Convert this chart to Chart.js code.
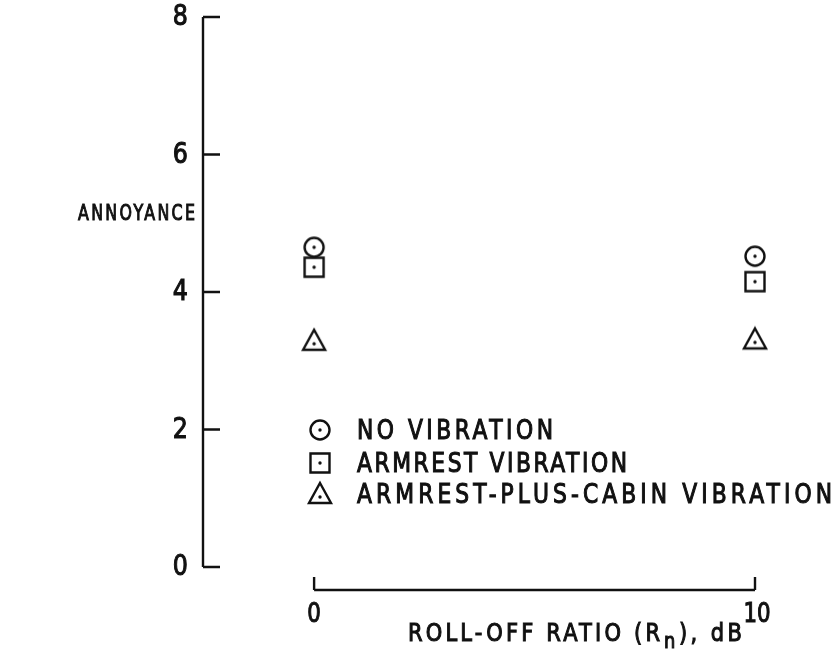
<!DOCTYPE html>
<html>
<head>
<meta charset="utf-8">
<script src="https://cdn.jsdelivr.net/npm/chart.js@4/dist/chart.umd.min.js"></script>
<style>
  html, body { margin: 0; padding: 0; background: #fff; }
  #wrap { width: 837px; height: 662px; }
</style>
</head>
<body>
<div id="wrap"><canvas id="annoyChart" width="837" height="662"></canvas></div>
<script>
// values
const rollOff = [0, 10];
const noVibration = [4.65, 4.52];
const armrestVib = [4.36, 4.15];
const armrestCabinVib = [3.29, 3.31];
const yTicks = [0, 2, 4, 6, 8];
const xTicks = [0, 10];
const seriesNames = ['NO VIBRATION', 'ARMREST VIBRATION', 'ARMREST-PLUS-CABIN VIBRATION'];

const FONT = '"DejaVu Sans", sans-serif';
const INK = '#111';

function marker(kind) {
	let c = document.createElement('canvas');
	c.width = 28; c.height = 28;
	let g = c.getContext('2d');
	g.strokeStyle = INK;
	g.fillStyle = INK;
	g.lineWidth = 2.4;
	g.beginPath();
	if (kind == 'circle') {
		g.arc(14, 14, 9.5, 0, Math.PI * 2);
	} else if (kind == 'square') {
		g.rect(4.5, 4.5, 19, 19);
	} else {
		g.moveTo(14, 3);
		g.lineTo(25, 23);
		g.lineTo(3, 23);
		g.closePath();
	}
	g.stroke();
	g.beginPath();
	g.arc(14, kind == 'triangle' ? 17 : 14, 1.7, 0, Math.PI * 2);
	g.fill();
	return c;
}

const markers = [marker('circle'), marker('square'), marker('triangle')];

function pairs(ys) {
	return rollOff.map((x, i) => ({ x: x, y: ys[i] }));
}

// narrow, slightly heavy lettering stretched to the typed original's width
function typed(ctx, txt, x, y, width, size, squeeze) {
	ctx.save();
	ctx.font = size + 'px ' + FONT;
	ctx.textAlign = 'left';
	ctx.textBaseline = 'middle';
	ctx.letterSpacing = '0px';
	let s = squeeze || 0.84;
	let w = ctx.measureText(txt).width;
	let sp = 0;
	if (width) sp = (width / s - w) / Math.max(1, txt.length - 1);
	ctx.letterSpacing = sp + 'px';
	ctx.translate(x, y);
	ctx.scale(s, 1);
	ctx.lineWidth = 1.1;
	ctx.strokeStyle = INK;
	ctx.fillStyle = INK;
	ctx.fillText(txt, 0, 0);
	ctx.strokeText(txt, 0, 0);
	ctx.restore();
}

function typedCenter(ctx, txt, xc, y, size, squeeze) {
	ctx.save();
	ctx.font = size + 'px ' + FONT;
	ctx.letterSpacing = '0px';
	let w = ctx.measureText(txt).width * squeeze;
	ctx.restore();
	typed(ctx, txt, xc - w / 2, y, 0, size, squeeze);
}

function typedRight(ctx, txt, xr, y, size, squeeze) {
	ctx.save();
	ctx.font = size + 'px ' + FONT;
	ctx.letterSpacing = '0px';
	let w = ctx.measureText(txt).width * squeeze;
	ctx.restore();
	typed(ctx, txt, xr - w, y, 0, size, squeeze);
}

const axesPlugin = {
	id: 'paperAxes',
	afterDraw(chart) {
		let ctx = chart.ctx;
		let xs = chart.scales.x, ys = chart.scales.y;
		let area = chart.chartArea;
		ctx.save();
		ctx.strokeStyle = INK;
		ctx.fillStyle = INK;
		ctx.lineWidth = 2.4;

		// y axis with inward ticks
		let ax = area.left;
		ctx.beginPath();
		ctx.moveTo(ax, ys.getPixelForValue(8));
		ctx.lineTo(ax, ys.getPixelForValue(0));
		yTicks.forEach(v => {
			let py = ys.getPixelForValue(v);
			ctx.moveTo(ax, py);
			ctx.lineTo(ax + 17, py);
		});
		ctx.stroke();
		yTicks.forEach(v => {
			typedRight(ctx, String(v), ax - 15, ys.getPixelForValue(v) + 1, 28, 0.85);
		});

		// y title
		typed(ctx, 'ANNOYANCE', 78, 214, 117, 22, 0.72);

		// x axis below the plot, ticks pointing up
		let by = area.bottom + 23;
		let x0 = xs.getPixelForValue(xTicks[0]);
		let x1 = xs.getPixelForValue(xTicks[xTicks.length - 1]);
		ctx.beginPath();
		ctx.moveTo(x0, by);
		ctx.lineTo(x1, by);
		xTicks.forEach(v => {
			let px = xs.getPixelForValue(v);
			ctx.moveTo(px, by);
			ctx.lineTo(px, by - 13);
		});
		ctx.stroke();
		xTicks.forEach(v => {
			typedCenter(ctx, String(v), xs.getPixelForValue(v) + (v > 0 ? 2 : 0), by + 25, 26, 0.82);
		});

		// x title with subscript
		typed(ctx, 'ROLL-OFF RATIO (R', 408, 634, 252, 25);
		typed(ctx, 'n', 664, 643, 0, 21, 0.85);
		typed(ctx, '), dB', 679, 634, 63, 25);

		// legend
		let rows = [430, 463, 494];
		let ends = [553, 627, 832];
		seriesNames.forEach((name, i) => {
			ctx.drawImage(markers[i], 320 - 14, rows[i] - 14);
			typed(ctx, name, 357, rows[i] + 2, ends[i] - 357, 26);
		});
		ctx.restore();
	}
};

let annoyChart = new Chart('annoyChart', {
	type: 'scatter',
	data: {
		datasets: [{
			label: seriesNames[0],
			data: pairs(noVibration),
			pointStyle: markers[0],
			showLine: false
		}, {
			label: seriesNames[1],
			data: pairs(armrestVib),
			pointStyle: markers[1],
			showLine: false
		}, {
			label: seriesNames[2],
			data: pairs(armrestCabinVib),
			pointStyle: markers[2],
			showLine: false
		}]
	},
	options: {
		responsive: false,
		animation: false,
		clip: false,
		layout: {
			padding: { left: 203, right: 82, top: 17, bottom: 95 }
		},
		plugins: {
			legend: { display: false },
			tooltip: { enabled: false }
		},
		scales: {
			x: { type: 'linear', display: false, min: -2.52, max: 10 },
			y: { type: 'linear', display: false, min: 0, max: 8 }
		}
	},
	plugins: [axesPlugin]
});
</script>
</body>
</html>
